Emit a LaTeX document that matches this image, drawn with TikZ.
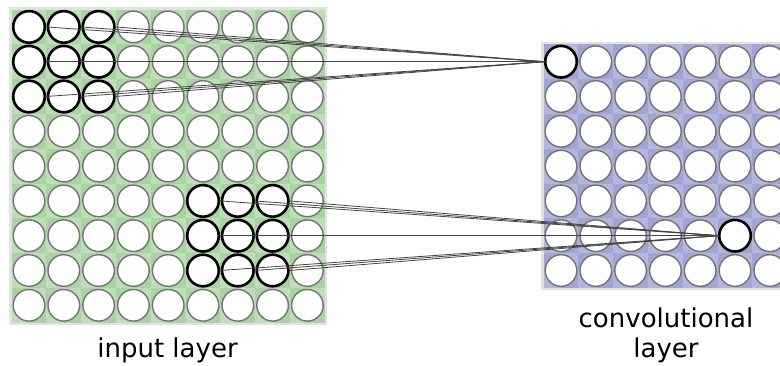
\documentclass[tikz,border=0pt]{standalone}
\usepackage{fontspec}
\setmainfont{DejaVu Sans}
\definecolor{ringgray}{HTML}{737373}
\definecolor{linkgray}{HTML}{454545}
\definecolor{framegray}{HTML}{E2E2E2}
\definecolor{greendark}{HTML}{A9D3A2}
\definecolor{greenlight}{HTML}{BCDFB5}
\definecolor{violetdark}{HTML}{A2A5D2}
\definecolor{violetlight}{HTML}{B4B7DD}
\newcommand{\cellpitch}{34.8}
% checkered layer background: x0, y0, cells across, cells down, dark colour, light colour
\newcommand{\layerbg}[6]{%
  \fill[framegray] (#1-2.5,#2-2.5) rectangle (#1+#3*\cellpitch+2.5,#2+#4*\cellpitch+2.5);
  \fill[#5] (#1,#2) rectangle (#1+#3*\cellpitch,#2+#4*\cellpitch);
  \pgfmathtruncatemacro\nx{2*#3-1}
  \pgfmathtruncatemacro\ny{2*#4-1}
  \foreach \i in {0,...,\nx}{
    \foreach \j in {0,...,\ny}{
      \pgfmathtruncatemacro\odd{mod(\i+\j,2)}
      \ifnum\odd=1
        \fill[#6] (#1+\i*\cellpitch/2,#2+\j*\cellpitch/2)
          rectangle ++(\cellpitch/2,\cellpitch/2);
      \fi
    }
  }%
}
\begin{document}
\begin{tikzpicture}[x=1pt,y=-1pt,
  unit/.style={circle,draw=ringgray,fill=white,line width=1.4pt,
    minimum size=31.6pt,inner sep=0pt},
  active/.style={draw=black,line width=2.6pt},
  link/.style={draw=linkgray,line width=0.8pt},
  caption/.style={font=\fontsize{26}{30}\selectfont,text=black,align=center}]
\useasboundingbox (0,0) rectangle (780,365);

% layer backgrounds
\layerbg{11.6}{9.5}{9}{9}{greendark}{greenlight}
\layerbg{543.6}{44.3}{7}{7}{violetdark}{violetlight}

% input layer, 9 x 9 units
\foreach \r in {0,...,8}{
  \foreach \c in {0,...,8}{
    \node[unit] (in-\r-\c) at (11.6+\cellpitch/2+\c*\cellpitch, 9.5+\cellpitch/2+\r*\cellpitch) {};
  }
}
% convolutional layer, 7 x 7 units
\foreach \r in {0,...,6}{
  \foreach \c in {0,...,6}{
    \node[unit] (cv-\r-\c) at (543.6+\cellpitch/2+\c*\cellpitch, 44.3+\cellpitch/2+\r*\cellpitch) {};
  }
}

% receptive fields and their output units
\foreach \r in {0,1,2}{\foreach \c in {0,1,2}{
  \node[unit,active] at (in-\r-\c) {};
}}
\foreach \r in {5,6,7}{\foreach \c in {5,6,7}{
  \node[unit,active] at (in-\r-\c) {};
}}
\node[unit,active] at (cv-0-0) {};
\node[unit,active] at (cv-5-5) {};

% connections from each receptive field to its output unit
\foreach \r in {0,1,2}{\foreach \c in {0,1,2}{
  \draw[link] (in-\r-\c.east) -- (cv-0-0.west);
}}
\foreach \r in {5,6,7}{\foreach \c in {5,6,7}{
  \draw[link] (in-\r-\c.east) -- (cv-5-5.west);
}}

% captions
\node[caption,anchor=base] (inlabel) at (167.5,357) {input layer};
\node[caption,anchor=center] (cvlabel) at (666,335) {convolutional\\layer};
\end{tikzpicture}
\end{document}
